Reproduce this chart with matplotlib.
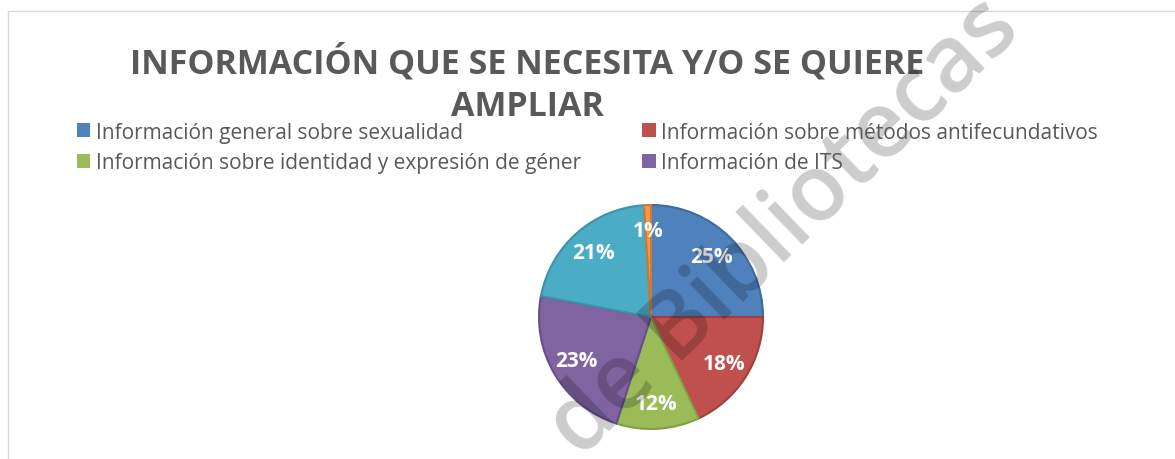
import matplotlib
matplotlib.use("Agg")
import matplotlib.pyplot as plt
from matplotlib.patches import Rectangle

# data (clockwise from 12 o'clock)
shares = [25, 18, 12, 23, 21, 1]
colours = ["#4F81BD", "#C0504D", "#9BBB59", "#8064A2", "#4BACC6", "#F79646"]
edges = ["#3f6a9e", "#a03f3c", "#80a045", "#674f86", "#3a93ab", "#d07a30"]
legend_labels = [
    "Información general sobre sexualidad",
    "Información sobre métodos antifecundativos",
    "Información sobre identidad y expresión de géner",
    "Información de ITS",
]
title = "INFORMACIÓN QUE SE NECESITA Y/O SE QUIERE\nAMPLIAR"

W, H = 1175, 460
fig = plt.figure(figsize=(W / 100, H / 100), dpi=100)
fig.patch.set_facecolor("white")
FONT = "Open Sans"

# chart frame
fig.add_artist(Rectangle((8 / W, -0.05), 1.2, (H - 12) / H + 0.05,
                         transform=fig.transFigure, fill=False,
                         edgecolor="#d9d9d9", linewidth=1.0))

# pie axes, centre ~(651, 318) px, radius ~112 px
cx, cy, r = 651, 318, 112
ax = fig.add_axes([(cx - r) / W, (H - cy - r) / H, 2 * r / W, 2 * r / H])
wedges, texts, autotexts = ax.pie(
    shares, colors=colours, startangle=90, counterclock=False,
    autopct="%d%%", pctdistance=0.77,
    wedgeprops=dict(linewidth=1.5),
    textprops=dict(color="white", fontsize=15, fontweight="bold", family=FONT),
)
for w, e in zip(wedges, edges):
    w.set_edgecolor(e)
ax.set_aspect("equal")
ax.set_xlim(-1, 1)
ax.set_ylim(-1, 1)

# title
fig.text(527 / W, 1 - 84 / H, title, ha="center", va="center",
         fontsize=24.5, fontweight="bold", color="#595959", family=FONT,
         linespacing=1.3)

# legend (only the four visible entries), filled row by row
order = [0, 2, 1, 3]
leg = fig.legend([wedges[i] for i in order], [legend_labels[i] for i in order],
                 ncol=2, loc="upper left",
                 bbox_to_anchor=(58 / W, 1 - 104 / H), frameon=False,
                 prop=dict(family=FONT, size=15), labelcolor="#595959",
                 handlelength=0.65, handleheight=0.65, handletextpad=0.25,
                 columnspacing=2.95, labelspacing=0.45)
for h in leg.legend_handles:
    h.set_linewidth(0)

# watermark
fig.text(785 / W, 1 - 228 / H, "de Bibliotecas", ha="center", va="center",
         rotation=44, fontsize=66, color="black", alpha=0.2, family=FONT,
         fontweight="semibold")

fig.savefig("out.png", dpi=100, facecolor="white")
